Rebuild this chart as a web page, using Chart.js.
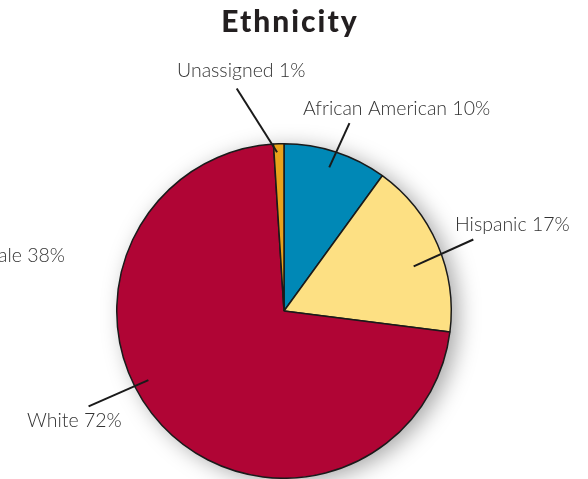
<!DOCTYPE html>
<html>
<head>
<meta charset="utf-8">
<script src="https://cdn.jsdelivr.net/npm/chart.js@4.4.0/dist/chart.umd.min.js"></script>
<style>
  html, body { margin: 0; padding: 0; background: #fff; }
  #wrap { width: 588px; height: 479px; position: relative; }
</style>
</head>
<body>
<div id="wrap"><canvas id="ethnicityChart"></canvas></div>
<script>
// Data
const categories = ['African American', 'Hispanic', 'White', 'Unassigned'];
const shares = [10, 17, 72, 1];
const sliceColors = ['#0088b6', '#fde083', '#b00535', '#e8a21a'];

// label placement: angles in degrees clockwise from top, radii as fraction of pie radius
const labelSpots = [
    { inAng: 17.5, inR: 0.90, outAng: 19.2, outR: 1.19, tx: 303, ty: 115, align: 'left' },
    { inAng: 71, inR: 0.82, outAng: 69.3, outR: 1.21, tx: 455, ty: 231, align: 'left' },
    { inAng: 243, inR: 0.91, outAng: 244, outR: 1.30, tx: 27, ty: 427, align: 'left' },
    { inAng: 357.5, inR: 0.95, outAng: 348, outR: 1.36, tx: 177, ty: 77, align: 'left' }
];

const labelFont = '300 19.5px Lato, "Open Sans", sans-serif';

// soft shadow behind the pie
const pieShadow = {
    id: 'pieShadow',
    beforeDatasetsDraw(chart) {
        const arc = chart.getDatasetMeta(0).data[0];
        const c = chart.ctx;
        c.save();
        c.shadowColor = 'rgba(0,0,0,0.35)';
        c.shadowBlur = 22;
        c.shadowOffsetX = 7;
        c.shadowOffsetY = 4;
        c.fillStyle = '#fff';
        c.beginPath();
        c.arc(arc.x, arc.y, arc.outerRadius, 0, Math.PI * 2);
        c.fill();
        c.restore();
    }
};

// title, labels and leader lines
const pieLabels = {
    id: 'pieLabels',
    afterDatasetsDraw(chart) {
        const c = chart.ctx;
        const arc = chart.getDatasetMeta(0).data[0];
        const cx = arc.x, cy = arc.y, r = arc.outerRadius;
        const pt = (deg, f) => {
            const a = deg * Math.PI / 180;
            return [cx + Math.sin(a) * r * f, cy - Math.cos(a) * r * f];
        };
        c.save();
        c.strokeStyle = '#1a1a1a';
        c.lineWidth = 2;
        c.fillStyle = '#333';
        c.font = labelFont;
        c.textBaseline = 'alphabetic';
        labelSpots.forEach((s, i) => {
            const p1 = pt(s.inAng, s.inR);
            const p2 = pt(s.outAng, s.outR);
            c.beginPath();
            c.moveTo(p1[0], p1[1]);
            c.lineTo(p2[0], p2[1]);
            c.stroke();
            c.textAlign = s.align;
            c.fillText(categories[i] + ' ' + shares[i] + '%', s.tx, s.ty);
        });
        // leftover label from neighbouring chart, cut by the edge
        c.textAlign = 'right';
        c.fillText('Female 38%', 65, 262);

        c.font = '900 30px Lato, "Open Sans", sans-serif';
        c.fillStyle = '#231f20';
        c.textAlign = 'left';
        if ('letterSpacing' in c) c.letterSpacing = '2px';
        const w = c.measureText('Ethnicity').width;
        c.fillText('Ethnicity', 290 - w / 2, 32);
        c.restore();
    }
};

const ctx = document.getElementById('ethnicityChart').getContext('2d');
const ethnicityChart = new Chart(ctx, {
    type: 'pie',
    data: {
        labels: categories,
        datasets: [{
            data: shares,
            backgroundColor: sliceColors,
            borderColor: '#1a1a1a',
            borderWidth: 1.5
        }]
    },
    options: {
        responsive: true,
        maintainAspectRatio: false,
        animation: false,
        layout: { padding: { top: 143, bottom: 0, left: 116, right: 136 } },
        plugins: {
            legend: { display: false },
            tooltip: { enabled: false }
        }
    },
    plugins: [pieShadow, pieLabels]
});
</script>
</body>
</html>
